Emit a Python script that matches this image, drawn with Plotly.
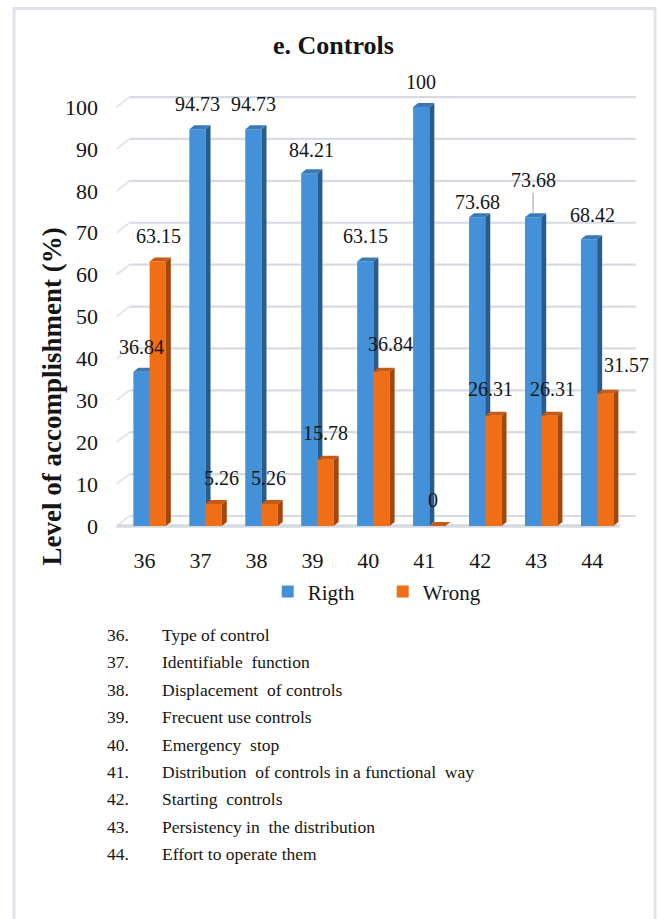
import plotly.graph_objects as go

# ---- data -------------------------------------------------------------
CATEGORIES = ["36", "37", "38", "39", "40", "41", "42", "43", "44"]
RIGTH = [36.84, 94.73, 94.73, 84.21, 63.15, 100, 73.68, 73.68, 68.42]
WRONG = [63.15, 5.26, 5.26, 15.78, 36.84, 0, 26.31, 26.31, 31.57]
Y_TICKS = [0, 10, 20, 30, 40, 50, 60, 70, 80, 90, 100]
ITEMS = [
    "Type of control",
    "Identifiable\u00a0 function",
    "Displacement\u00a0 of controls",
    "Frecuent use controls",
    "Emergency\u00a0 stop",
    "Distribution\u00a0 of controls in a functional\u00a0 way",
    "Starting\u00a0 controls",
    "Persistency in\u00a0 the distribution",
    "Effort to operate them",
]

# ---- geometry ---------------------------------------------------------
W, H = 659, 919
PX_CAT = 55.9          # pixels per category slot
PX_UNIT = 4.19         # pixels per percentage point
FRONT_LEFT_PX = 117    # left end of the front floor edge
FLOOR_PX = 526         # pixel row of 0 on the front plane
XR = [-0.6, 8.82]
YR = [-1.2, 103.6]

ML = FRONT_LEFT_PX - (-0.5 - XR[0]) * PX_CAT
MR = W - (FRONT_LEFT_PX + (XR[1] + 0.5) * PX_CAT)
MB = H - (FLOOR_PX - YR[0] * PX_UNIT)
MT = FLOOR_PX - YR[1] * PX_UNIT
PW = W - ML - MR
PH = H - MT - MB


def px(xp):
    return (xp - ML) / PW


def py(yp):
    return (H - MB - yp) / PH


WALL_DX = 13 / PX_CAT      # depth of the back wall
WALL_DY = 10 / PX_UNIT
WALL_END = 8.78
FACE_DX = 5 / PX_CAT       # depth of each bar
FACE_DY = 4 / PX_UNIT
BAR_W = 0.29

FONT = "Liberation Serif"
INK = "#151515"

SERIES = [
    dict(name="Rigth", values=RIGTH, offset=-0.2, front="#4291d9", side="#2a5b8a",
         top="#3a78b6", ax="x", ay="y",
         ldx=[0, 0, 0, 2, 0, 0, 0, 0, 3], ldy=[25, 25, 25, 23, 25, 25, 15, 37, 24],
         leader=[False, False, False, False, False, False, False, True, False]),
    dict(name="Wrong", values=WRONG, offset=0.09, front="#f06e16", side="#a3470a",
         top="#c95a10", ax="x2", ay="y2",
         ldx=[1, 8, -1, 0, 9, -4, -3, 3, 21], ldy=[25, 26, 26, 27, 28, 26, 27, 27, 29],
         leader=[False] * 9),
]

fig = go.Figure()
annotations = []

for s in SERIES:
    xs = list(range(len(CATEGORIES)))
    fig.add_trace(go.Bar(
        x=xs, y=s["values"], width=BAR_W, offset=s["offset"], name=s["name"],
        marker=dict(color=s["front"], line=dict(width=0)),
        xaxis=s["ax"], yaxis=s["ay"], hovertemplate="%{y}<extra>" + s["name"] + "</extra>",
    ))
    side_x, side_y, top_x, top_y = [], [], [], []
    for i, v in enumerate(s["values"]):
        xl = i + s["offset"]
        xr = xl + BAR_W
        side_x += [xr, xr + FACE_DX, xr + FACE_DX, xr, xr, None]
        side_y += [0, FACE_DY, v + FACE_DY, v, 0, None]
        top_x += [xl, xl + FACE_DX, xr + FACE_DX, xr, xl, None]
        top_y += [v, v + FACE_DY, v + FACE_DY, v, v, None]
    for fx, fy, col in ((side_x, side_y, s["side"]), (top_x, top_y, s["top"])):
        fig.add_trace(go.Scatter(
            x=fx, y=fy, mode="lines", fill="toself", fillcolor=col,
            line=dict(width=0, color=col), hoverinfo="skip", showlegend=False,
            xaxis=s["ax"], yaxis=s["ay"],
        ))
    for i, v in enumerate(s["values"]):
        xc = i + s["offset"] + BAR_W / 2
        label = f"{v:g}"
        if s["leader"][i]:
            annotations.append(dict(
                x=xc, y=v + FACE_DY, xref="x", yref="y", text=label,
                showarrow=True, arrowhead=0, arrowwidth=1.5, arrowcolor="#b5bfca",
                ax=s["ldx"][i], ay=-(s["ldy"][i] - 4),
                font=dict(family=FONT, size=20, color=INK),
            ))
        else:
            annotations.append(dict(
                x=xc, y=v, xref="x", yref="y", text=label, showarrow=False,
                xanchor="center", yanchor="middle",
                xshift=s["ldx"][i], yshift=s["ldy"][i],
                font=dict(family=FONT, size=20, color=INK),
            ))

# ---- back wall, left wall and floor -----------------------------------
shapes = []
for v in Y_TICKS:
    shapes.append(dict(type="line", xref="x", yref="y", layer="below",
                       x0=-0.5 + WALL_DX, y0=v + WALL_DY, x1=WALL_END, y1=v + WALL_DY,
                       line=dict(color="#d7dbe1", width=2.2)))
    shapes.append(dict(type="line", xref="x", yref="y", layer="below",
                       x0=-0.5, y0=v, x1=-0.5 + WALL_DX, y1=v + WALL_DY,
                       line=dict(color="#e2e5e9", width=2)))
shapes.append(dict(type="line", xref="x", yref="y", layer="below",
                   x0=-0.5, y0=0, x1=len(CATEGORIES) - 0.5, y1=0,
                   line=dict(color="#d6dae0", width=3.5)))

# outer frame of the figure
shapes.append(dict(type="rect", xref="paper", yref="paper",
                   x0=px(14.5), x1=px(655), y0=py(8.5), y1=py(940),
                   line=dict(color="#dfe3ea", width=3), fillcolor="rgba(0,0,0,0)"))

# ---- titles -----------------------------------------------------------
annotations.append(dict(xref="paper", yref="paper", x=px(334), y=py(45),
                        text="<b>e. Controls</b>", showarrow=False,
                        xanchor="center", yanchor="middle",
                        font=dict(family=FONT, size=26, color=INK)))
annotations.append(dict(xref="paper", yref="paper", x=px(52), y=py(397),
                        text="<b>Level of accomplishment (%)</b>", showarrow=False,
                        textangle=-90, xanchor="center", yanchor="middle",
                        font=dict(family=FONT, size=27, color=INK)))

# ---- item list under the chart ----------------------------------------
for k, item in enumerate(ITEMS):
    yy = py(635 + k * 27.4)
    annotations.append(dict(xref="paper", yref="paper", x=px(105), y=yy,
                            text=f"{CATEGORIES[k]}.", showarrow=False,
                            xanchor="left", yanchor="middle",
                            font=dict(family=FONT, size=17.5, color=INK)))
    annotations.append(dict(xref="paper", yref="paper", x=px(160), y=yy,
                            text=item, showarrow=False,
                            xanchor="left", yanchor="middle",
                            font=dict(family=FONT, size=17.5, color=INK)))

fig.update_layout(
    width=W, height=H,
    font=dict(family=FONT, color=INK),
    margin=dict(l=ML, r=MR, t=MT, b=MB, autoexpand=False),
    paper_bgcolor="white", plot_bgcolor="rgba(0,0,0,0)",
    barmode="group",
    showlegend=True,
    legend=dict(orientation="h", x=px(268), xanchor="left", y=py(592), yanchor="middle",
                font=dict(family=FONT, size=21, color=INK),
                entrywidth=70, entrywidthmode="pixels", bgcolor="rgba(0,0,0,0)"),
    xaxis=dict(range=XR, tickvals=list(range(len(CATEGORIES))), ticktext=CATEGORIES,
               showgrid=False, zeroline=False, showline=False, ticks="",
               ticklabelstandoff=14, fixedrange=True,
               tickfont=dict(family=FONT, size=22, color=INK)),
    yaxis=dict(range=YR, tickvals=Y_TICKS, showgrid=False, zeroline=False,
               showline=False, ticks="", ticklabelstandoff=12, fixedrange=True,
               tickfont=dict(family=FONT, size=22, color=INK)),
    xaxis2=dict(range=XR, overlaying="x", visible=False, fixedrange=True),
    yaxis2=dict(range=YR, overlaying="y", visible=False, fixedrange=True),
    shapes=shapes,
    annotations=annotations,
)

fig.write_html("out.html")
